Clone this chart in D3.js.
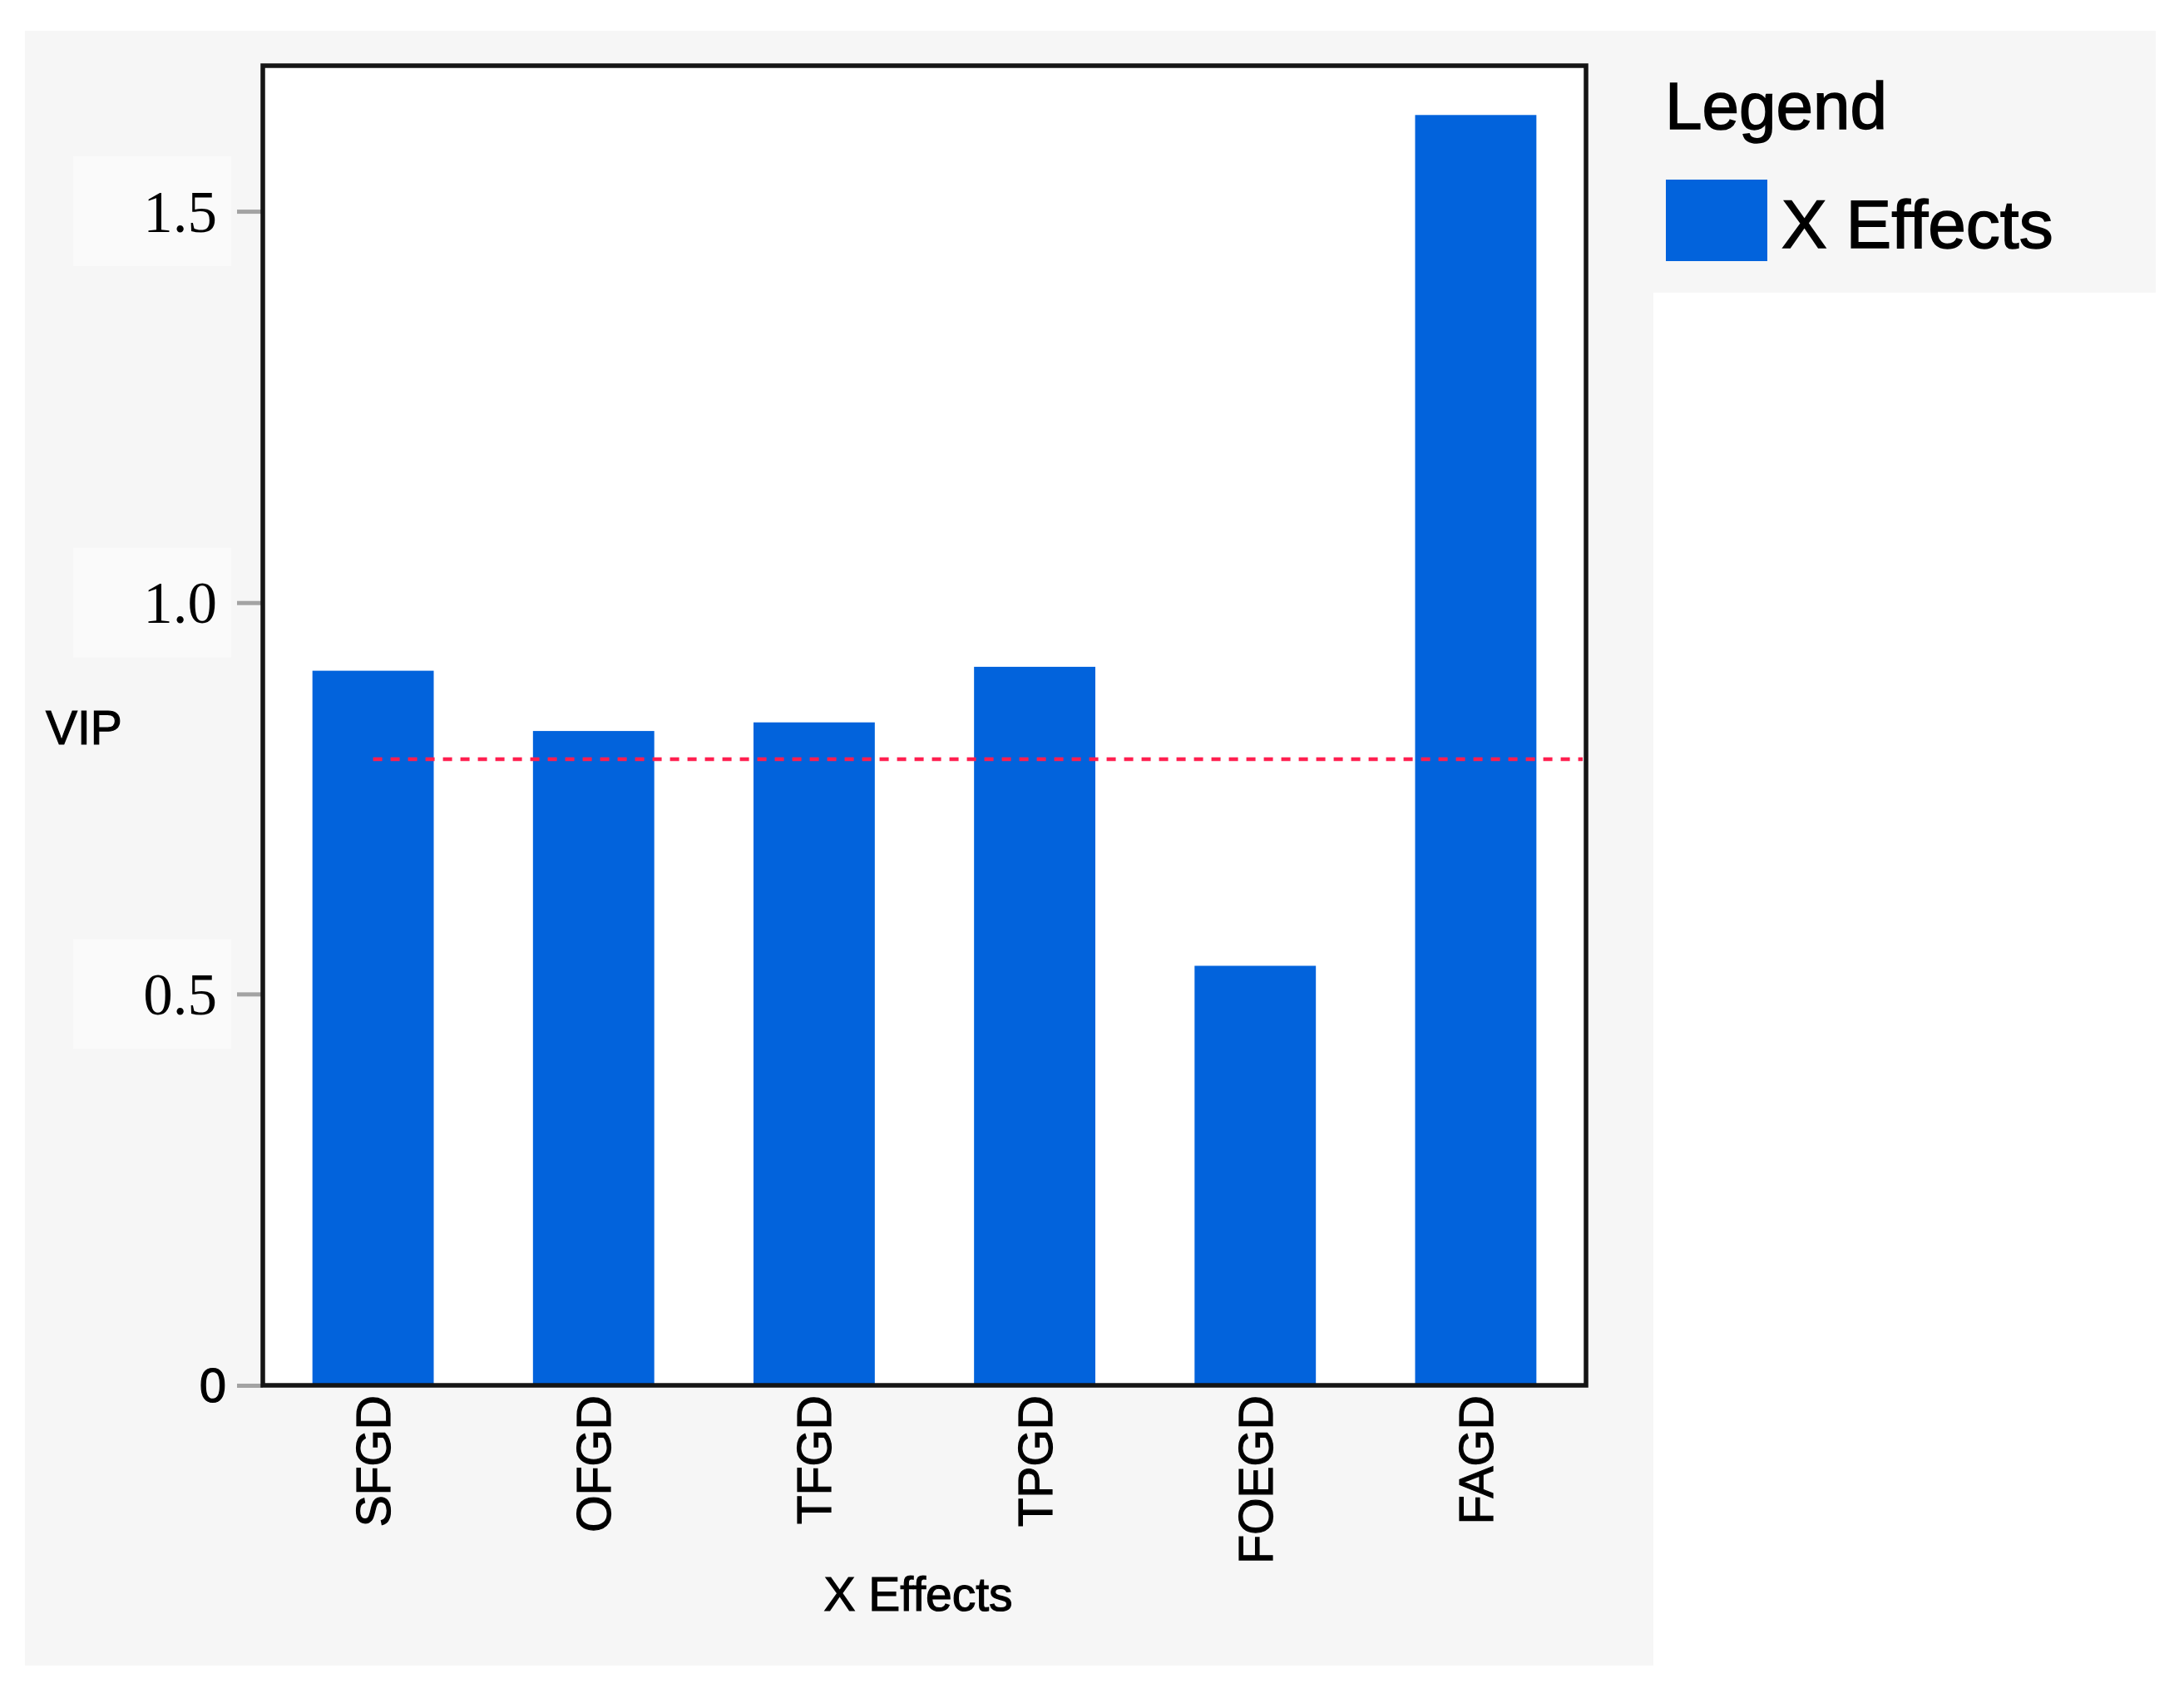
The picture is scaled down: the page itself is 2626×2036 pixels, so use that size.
<!DOCTYPE html>
<html>
<head>
<meta charset="utf-8">
<script src="https://cdn.jsdelivr.net/npm/d3@7"></script>
<style>
  html, body { margin: 0; padding: 0; background: #ffffff; }
  svg { display: block; }
</style>
</head>
<body>
<svg id="chart" width="2626" height="2036"></svg>
<script>
// ---- data ----
const categories = ["SFGD", "OFGD", "TFGD", "TPGD", "FOEGD", "FAGD"];
const vipValues = [0.913, 0.836, 0.847, 0.918, 0.536, 1.623];
const yTickValues = [0, 0.5, 1.0, 1.5];
const yTickLabels = ["0", "0.5", "1.0", "1.5"];
const threshold = 0.8;
const seriesName = "X Effects";
const xTitle = "X Effects";
const yTitle = "VIP";
const legendTitle = "Legend";

// ---- layout ----
const W = 2626, H = 2036;
const frame = { left: 316, right: 1907, top: 79, bottom: 1666 };
const barColor = "#0263dc";
const panelColor = "#f6f6f6";
const sans = "'Liberation Sans', Arial, Helvetica, sans-serif";
const serif = "'Liberation Serif', 'Times New Roman', serif";

const svg = d3.select("#chart");

// panels
svg.append("rect").attr("x", 30).attr("y", 37).attr("width", 1958).attr("height", 1966).attr("fill", panelColor);
svg.append("rect").attr("x", 1988).attr("y", 37).attr("width", 604).attr("height", 315).attr("fill", panelColor);

// scales
const x = d3.scaleBand().domain(categories).range([frame.left, frame.right])
  .paddingInner(0.45).paddingOuter(0.225);
const y = d3.scaleLinear().domain([0, 1.686]).range([frame.bottom, frame.top]);

// faint boxes behind serif tick labels
svg.append("g").selectAll("rect").data(yTickValues.filter(v => v > 0)).join("rect")
  .attr("x", 88).attr("width", 190)
  .attr("y", d => y(d) - 66).attr("height", 132)
  .attr("fill", "#fafafa");

// plot background
svg.append("rect").attr("x", frame.left).attr("y", frame.top)
  .attr("width", frame.right - frame.left).attr("height", frame.bottom - frame.top)
  .attr("fill", "#ffffff");

// bars
svg.append("g").selectAll("rect").data(categories).join("rect")
  .attr("x", d => x(d))
  .attr("width", x.bandwidth())
  .attr("y", (d, i) => y(vipValues[i]))
  .attr("height", (d, i) => y(0) - y(vipValues[i]))
  .attr("fill", barColor);

// threshold line
svg.append("line")
  .attr("x1", x(categories[0]) + x.bandwidth() / 2)
  .attr("x2", frame.right - 4)
  .attr("y1", y(threshold)).attr("y2", y(threshold))
  .attr("stroke", "#ff1f4f").attr("stroke-width", 4.5)
  .attr("stroke-dasharray", "11,10");

// y axis
const yAxis = svg.append("g").attr("transform", `translate(${frame.left},0)`)
  .call(d3.axisLeft(y).tickValues(yTickValues).tickSize(31).tickPadding(24)
    .tickFormat((d, i) => yTickLabels[i]));
yAxis.select(".domain").remove();
yAxis.selectAll(".tick line").attr("stroke", "#a3a3a3").attr("stroke-width", 5);
yAxis.selectAll(".tick text")
  .attr("fill", "#000")
  .attr("dy", "0.34em")
  .style("font-family", (d) => d === 0 ? sans : serif)
  .style("font-size", (d) => d === 0 ? "58px" : "71px")
  .attr("stroke", (d) => d === 0 ? "#000" : "none")
  .attr("stroke-width", 1.2)
  .attr("x", (d) => d === 0 ? -44 : -55);

// x axis labels
const xAxis = svg.append("g").attr("transform", `translate(0,${frame.bottom})`)
  .call(d3.axisBottom(x).tickSize(0).tickPadding(0));
xAxis.select(".domain").remove();
xAxis.selectAll(".tick text")
  .attr("fill", "#000")
  .attr("stroke", "#000").attr("stroke-width", 1.2)
  .style("font-family", sans).style("font-size", "57px")
  .attr("text-anchor", "end")
  .attr("transform", "rotate(-90)")
  .attr("x", -12).attr("y", 0).attr("dy", "0.36em");

// frame
svg.append("rect").attr("x", frame.left).attr("y", frame.top)
  .attr("width", frame.right - frame.left).attr("height", frame.bottom - frame.top)
  .attr("fill", "none").attr("stroke", "#151515").attr("stroke-width", 5.5);

// axis titles
svg.append("text").attr("x", 1104).attr("y", 1937).attr("text-anchor", "middle")
  .attr("stroke", "#000").attr("stroke-width", 1.2)
  .style("font-family", sans).style("font-size", "57px").text(xTitle);
svg.append("text").attr("x", 55).attr("y", 895)
  .attr("stroke", "#000").attr("stroke-width", 1.2)
  .style("font-family", sans).style("font-size", "57px").text(yTitle);

// legend
svg.append("text").attr("x", 2002).attr("y", 155)
  .attr("stroke", "#000").attr("stroke-width", 1.5)
  .style("font-family", sans).style("font-size", "80px").text(legendTitle);
svg.append("rect").attr("x", 2003).attr("y", 216).attr("width", 122).attr("height", 98).attr("fill", barColor);
svg.append("text").attr("x", 2142).attr("y", 298)
  .attr("stroke", "#000").attr("stroke-width", 1.5)
  .style("font-family", sans).style("font-size", "82px").text(seriesName);
</script>
</body>
</html>
